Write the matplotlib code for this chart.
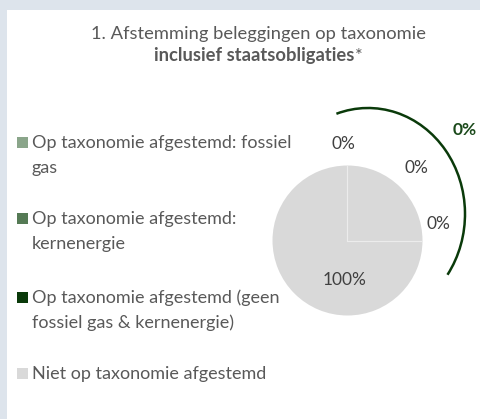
import matplotlib
matplotlib.use("Agg")
import matplotlib.pyplot as plt
from matplotlib.patches import Rectangle, Arc

plt.rcParams['font.family'] = ['Lato', 'DejaVu Sans']

# ---- data ----
categories = [
    "Op taxonomie afgestemd: fossiel\ngas",
    "Op taxonomie afgestemd:\nkernenergie",
    "Op taxonomie afgestemd (geen\nfossiel gas & kernenergie)",
    "Niet op taxonomie afgestemd",
]
values = [0, 0, 0, 100]
colors = ["#8aa58a", "#557a55", "#0a3a0a", "#d9d9d9"]
aligned_total = sum(values[:3])
title_line1 = "1. Afstemming beleggingen op taxonomie"
title_line2_bold = "inclusief staatsobligaties"
title_line2_rest = "*"

W, H = 481, 419
fig = plt.figure(figsize=(W / 100, H / 100), dpi=100)
fig.patch.set_facecolor("#dde4ec")

# background axes in pixel coordinates
bg = fig.add_axes([0, 0, 1, 1])
bg.set_xlim(0, W)
bg.set_ylim(H, 0)
bg.axis("off")
bg.add_patch(Rectangle((7, 10), W - 7, H - 10, facecolor="white", edgecolor="none"))

txtc = "#595959"
fs_title = 13.2
bg.text(259, 38.5, title_line1, ha="center", va="baseline", fontsize=fs_title, color=txtc)
t2 = bg.text(254, 61, title_line2_bold, ha="center", va="baseline", fontsize=fs_title,
             color=txtc, fontweight="bold")
fig.canvas.draw()
bb = t2.get_window_extent()
bg.text(bb.x1 + 0.5, 61, title_line2_rest, ha="left", va="baseline", fontsize=fs_title,
        color=txtc)

# legend
leg_base = [148, 224, 303, 379]
line_gap = 24.5
for cat, col, yb in zip(categories, colors, leg_base):
    bg.add_patch(Rectangle((17, yb - 11), 11, 11, facecolor=col, edgecolor="none"))
    for i, line in enumerate(cat.split("\n")):
        bg.text(32, yb + i * line_gap, line, ha="left", va="baseline", fontsize=13,
                color=txtc)

# pie
cx, cy, r = 347.5, 240.5, 75
pax = fig.add_axes([(cx - r) / W, (H - cy - r) / H, 2 * r / W, 2 * r / H])
pax.pie(values, colors=colors, startangle=90, counterclock=False, radius=1,
        wedgeprops=dict(edgecolor="none", linewidth=0))
# faint slice separators (zero-size slices at top and right)
pax.plot([0, 0], [0, 1], color="#ececec", lw=0.8)
pax.plot([0, 1], [0, 0], color="#ececec", lw=0.8)
pax.set_xlim(-1, 1)
pax.set_ylim(-1, 1)
pax.axis("off")

# overlay for labels and arc
ov = fig.add_axes([0, 0, 1, 1])
ov.set_xlim(0, W)
ov.set_ylim(H, 0)
ov.axis("off")
ov.patch.set_alpha(0)

label_pos = [(343, 143.5), (416, 168), (438, 224), (345, 280)]
for v, (x, y) in zip(values, label_pos):
    ov.text(x, y, f"{v}%", ha="center", va="center", fontsize=12.5, color="#404040")

ov.add_patch(Arc((368, 214), 194, 212, theta1=-107.5, theta2=37.4,
                 color="#0a3a0a", lw=1.8))
ov.text(465, 130, f"{aligned_total}%", ha="center", va="center", fontsize=12.5,
        color="#1b4a1b", fontweight="bold")

fig.savefig("out.png", dpi=100, facecolor=fig.get_facecolor())
